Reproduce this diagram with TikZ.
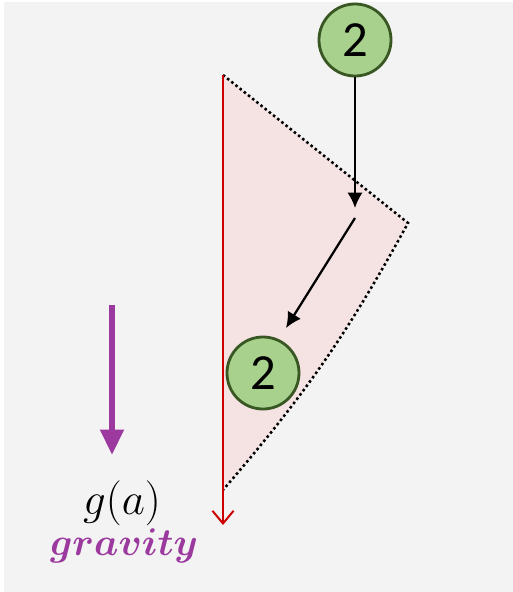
\RequirePackage{fix-cm}
\documentclass[tikz,border=0pt]{standalone}
\usepackage{fontspec}
\usepackage{amsmath,bm}
\newfontfamily\ballfont{Carlito}
\usetikzlibrary{arrows.meta}

\begin{document}
\begin{tikzpicture}[>=latex, x=0.025cm, y=-0.025cm,
    ball/.style={circle, draw=ballline, fill=ballfill, line width=2pt,
        minimum size=1.8cm, inner sep=0pt, font=\ballfont\fontsize{36}{40}\selectfont},
    move/.style={-{Latex[length=11pt, width=11pt]}, line width=1.6pt},
    edge/.style={dotted, line width=1.8pt}]
    % Định nghĩa màu
    \definecolor{bgcolor}{RGB}{243, 243, 243}
    \definecolor{wedgefill}{RGB}{245, 227, 227}
    \definecolor{ballfill}{RGB}{169, 209, 142}
    \definecolor{ballline}{RGB}{56, 87, 35}
    \definecolor{redline}{RGB}{204, 0, 0}
    \definecolor{purpleg}{RGB}{155, 57, 159}

    % 0. Khung nền
    \fill[white] (0,0) rectangle (513,592);
    \fill[bgcolor] (4,2) rectangle (513,592);

    % 1. Các đỉnh của miền tam giác
    \coordinate (top) at (223,75);
    \coordinate (right) at (408,223);
    \coordinate (bottom) at (223,490);
    \fill[wedgefill] (top) -- (right) to[bend left=6] (bottom) -- cycle;
    \draw[edge] (top) -- (right) to[bend left=6] (bottom);

    % 2. Đường thẳng đứng màu đỏ
    \coordinate (redend) at (223,525);
    \draw[redline, line width=1.4pt, -{Straight Barb[length=9pt, width=15pt]}] (top) -- (redend);

    % 3. Hai quả bóng và các mũi tên
    \node[ball] (upper) at (355,40) {2};
    \node[ball] (lower) at (263,373) {2};
    \coordinate (turn) at (355,208);
    \coordinate (start) at (355,218);
    \coordinate (land) at (286,328);
    \draw[move] (upper) -- (turn);
    \draw[move] (start) -- (land);

    % 4. Trọng lực
    \coordinate (gtop) at (112,305);
    \coordinate (gend) at (112,455);
    \draw[purpleg, line width=4.3pt, -{Triangle[length=18pt, width=16pt]}] (gtop) -- (gend);
    \node (glabel) at (122,503) {\fontsize{32}{36}\selectfont $g(a)$};
    \node[purpleg] (gname) at (124,546) {\fontsize{27.5}{31}\selectfont $\bm{gravity}$};
\end{tikzpicture}
\end{document}
